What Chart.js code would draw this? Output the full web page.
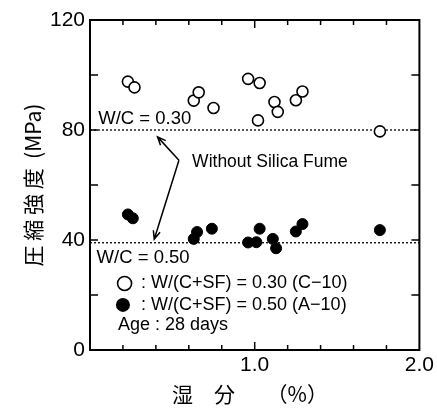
<!DOCTYPE html>
<html>
<head>
<meta charset="utf-8">
<script src="https://cdn.jsdelivr.net/npm/chart.js@4"></script>
<style>body{margin:0;background:#fff}</style>
</head>
<body>
<canvas id="chart" width="437" height="412"></canvas>
<script>
// W/(C+SF) = 0.30 (C-10) -> open circles
var moistC10 = [0.23, 0.27, 0.63, 0.66, 0.75, 0.96, 1.02, 1.03, 1.12, 1.14, 1.25, 1.29, 1.76];
var strengthC10 = [97.6, 95.5, 90.7, 93.7, 88.0, 98.6, 83.5, 97.1, 90.2, 86.6, 90.8, 94.0, 79.5];
// W/(C+SF) = 0.50 (A-10) -> filled circles
var moistA10 = [0.23, 0.26, 0.63, 0.65, 0.74, 0.96, 1.01, 1.03, 1.11, 1.13, 1.25, 1.29, 1.76];
var strengthA10 = [49.3, 47.9, 40.4, 42.9, 44.1, 39.1, 39.2, 44.1, 40.4, 37.0, 43.1, 45.8, 43.6];
// levels without silica fume
var refLabels = ['W/C = 0.30', 'W/C = 0.50'];
var refStrength = [80, 39];
var xRange = [0, 2];
var xTickValues = [1, 2];
var xTickLabels = ['1.0', '2.0'];
var yTickValues = [0, 40, 80, 120];
var legendLabels = [': W/(C+SF) = 0.30 (C\u221210)', ': W/(C+SF) = 0.50 (A\u221210)', 'Age : 28 days'];
var noteText = 'Without Silica Fume';

function pts(xs, ys) {
  return xs.map(function (x, i) { return {x: x, y: ys[i]}; });
}

var latin = "'Liberation Sans', Arial, sans-serif";

// frame, inward ticks, annotations, legend
var decor = {
  id: 'decor',
  afterDatasetsDraw: function (chart) {
    var c = chart.ctx, a = chart.chartArea, sx = chart.scales.x, sy = chart.scales.y;
    var X = function (v) { return sx.getPixelForValue(v); };
    var Y = function (v) { return sy.getPixelForValue(v); };
    c.save();
    c.strokeStyle = '#000';
    c.lineWidth = 2;
    c.strokeRect(a.left, a.top, a.right - a.left, a.bottom - a.top);
    c.lineWidth = 1.5;
    c.beginPath();
    sx.ticks.forEach(function (t) {
      var px = X(t.value);
      if (px <= a.left + 1 || px >= a.right - 1) return;
      var len = Math.abs(t.value - 1) < 1e-6 ? 8 : 5;
      c.moveTo(px, a.bottom); c.lineTo(px, a.bottom - len);
      c.moveTo(px, a.top); c.lineTo(px, a.top + len);
    });
    sy.ticks.forEach(function (t) {
      var py = Y(t.value);
      if (py <= a.top + 1 || py >= a.bottom - 1) return;
      c.moveTo(a.left, py); c.lineTo(a.left + 8, py);
      c.moveTo(a.right, py); c.lineTo(a.right - 8, py);
    });
    c.stroke();

    c.fillStyle = '#000';
    c.textBaseline = 'middle';
    c.textAlign = 'left';
    c.font = '18.5px ' + latin;
    c.fillText(refLabels[0], X(0.05), Y(refStrength[0] + 4.2));
    c.fillText(refLabels[1], X(0.04), Y(refStrength[1] - 5.5));
    c.font = '17.5px ' + latin;
    c.fillText(noteText, X(0.62), Y(68.4));

    // arrows
    function arrow(x0, y0, x1, y1) {
      var ang = Math.atan2(y1 - y0, x1 - x0), h = 9;
      c.beginPath();
      c.moveTo(x0, y0); c.lineTo(x1, y1);
      c.moveTo(x1 - h * Math.cos(ang - 0.4), y1 - h * Math.sin(ang - 0.4));
      c.lineTo(x1, y1);
      c.lineTo(x1 - h * Math.cos(ang + 0.4), y1 - h * Math.sin(ang + 0.4));
      c.stroke();
    }
    c.lineWidth = 1.5;
    arrow(X(0.54), Y(69), X(0.41), Y(77.5));
    arrow(X(0.54), Y(69), X(0.39), Y(40.3));

    // legend
    c.font = '18px ' + latin;
    c.lineWidth = 1.6;
    c.beginPath();
    c.arc(X(0.21), Y(24.2), 7, 0, Math.PI * 2);
    c.stroke();
    c.beginPath();
    c.arc(X(0.20), Y(16.4), 7, 0, Math.PI * 2);
    c.fill();
    c.fillText(legendLabels[0], X(0.31), Y(24.2));
    c.fillText(legendLabels[1], X(0.31), Y(16.4));
    c.fillText(legendLabels[2], X(0.17), Y(9.1));
    c.restore();
  }
};

var ctx = document.getElementById('chart').getContext('2d');
var chart = new Chart(ctx, {
  type: 'scatter',
  data: {
    datasets: [{
      label: legendLabels[0],
      data: pts(moistC10, strengthC10),
      pointRadius: 5.5,
      pointBackgroundColor: '#fff',
      pointBorderColor: '#000',
      pointBorderWidth: 1.6
    }, {
      label: legendLabels[1],
      data: pts(moistA10, strengthA10),
      pointRadius: 5.5,
      pointBackgroundColor: '#000',
      pointBorderColor: '#000',
      pointBorderWidth: 1
    }, {
      label: refLabels[0],
      data: pts(xRange, [refStrength[0], refStrength[0]]),
      showLine: true,
      pointRadius: 0,
      borderColor: '#000',
      borderWidth: 1.3,
      borderDash: [2, 2]
    }, {
      label: refLabels[1],
      data: pts(xRange, [refStrength[1], refStrength[1]]),
      showLine: true,
      pointRadius: 0,
      borderColor: '#000',
      borderWidth: 1.3,
      borderDash: [2, 2]
    }]
  },
  options: {
    responsive: false,
    animation: false,
    layout: {padding: {left: 20, top: 20, right: 17, bottom: 0}},
    plugins: {legend: {display: false}, tooltip: {enabled: false}},
    scales: {
      x: {
        type: 'linear',
        min: xRange[0],
        max: xRange[1],
        grid: {display: false, drawTicks: false},
        border: {display: false},
        ticks: {
          stepSize: 0.2,
          autoSkip: false,
          maxRotation: 0,
          padding: 3,
          color: '#000',
          font: {family: latin, size: 21},
          callback: function (v) {
            for (var i = 0; i < xTickValues.length; i++) {
              if (Math.abs(v - xTickValues[i]) < 1e-6) return xTickLabels[i];
            }
            return '';
          }
        },
        title: {
          display: true,
          text: '湿　分　　（%）  ',
          color: '#000',
          font: {family: "'Noto Sans CJK JP'", size: 21},
          padding: {top: 0, bottom: 5}
        },
        afterFit: function (s) { s.height = 62; }
      },
      y: {
        min: 0,
        max: 120,
        grid: {display: false, drawTicks: false},
        border: {display: false},
        ticks: {
          stepSize: 20,
          padding: 5,
          color: '#000',
          font: {family: latin, size: 21},
          callback: function (v) { return yTickValues.indexOf(v) >= 0 ? String(v) : ''; }
        },
        title: {
          display: true,
          text: '圧 縮 強 度  (MPa)',
          color: '#000',
          font: {family: "'Noto Sans CJK JP'", size: 21},
          padding: {top: 0, bottom: 0}
        },
        afterFit: function (s) { s.width = 70; }
      }
    }
  },
  plugins: [decor]
});
</script>
</body>
</html>
